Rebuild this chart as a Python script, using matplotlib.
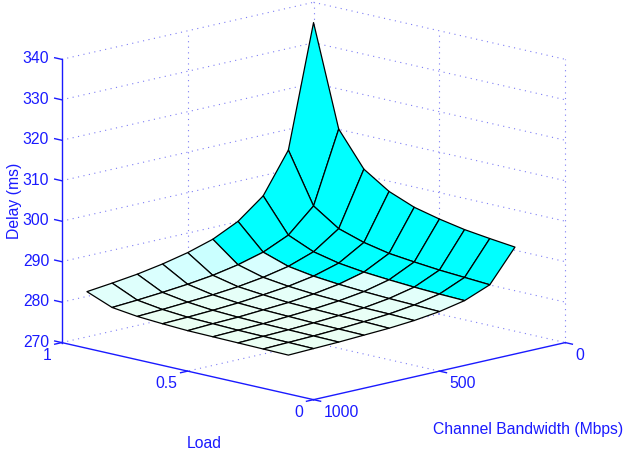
import numpy as np
import matplotlib
matplotlib.use('Agg')
import matplotlib.pyplot as plt
from matplotlib.colors import LinearSegmentedColormap
from mpl_toolkits.mplot3d import proj3d

plt.rcParams['font.family'] = ['Liberation Sans', 'DejaVu Sans']

bandwidth = [100, 200, 300, 400, 500, 600, 700, 800, 900, 1000]
load = [0.1, 0.2, 0.3, 0.4, 0.5, 0.6, 0.7, 0.8, 0.9]

# delay in ms, one row per load value
delay_01 = [293.6, 285.7, 283.2, 281.9, 281.1, 280.6, 280.3, 280.0, 279.8, 279.6]
delay_02 = [294.3, 286.1, 283.4, 282.1, 281.3, 280.8, 280.4, 280.1, 279.9, 279.7]
delay_03 = [295.1, 286.5, 283.7, 282.3, 281.4, 280.9, 280.5, 280.2, 280.0, 279.8]
delay_04 = [296.3, 287.1, 284.1, 282.6, 281.7, 281.1, 280.7, 280.3, 280.1, 279.9]
delay_05 = [297.8, 287.8, 284.6, 283.0, 282.0, 281.3, 280.9, 280.5, 280.3, 280.0]
delay_06 = [300.3, 289.1, 285.4, 283.6, 282.5, 281.8, 281.2, 280.8, 280.5, 280.3]
delay_07 = [304.4, 291.1, 286.8, 284.6, 283.3, 282.4, 281.8, 281.4, 281.0, 280.7]
delay_08 = [312.9, 295.3, 289.5, 286.7, 285.0, 283.8, 283.0, 282.4, 281.9, 281.5]
delay_09 = [337.8, 307.7, 297.8, 292.9, 289.9, 288.0, 286.6, 285.5, 284.7, 284.0]

# how many cells are full cyan in each bandwidth column, counted from the high load side
cyan_cells = [8, 8, 4, 1, 0, 0, 0, 0, 0]

bw_ticks = [0, 500, 1000]
load_ticks = [0, 0.5, 1]
load_tick_labels = ['0', '0.5', '1']
delay_ticks = [270, 280, 290, 300, 310, 320, 330, 340]

BLUE = '#1a1aff'
GRID = '#7c7cf5'
FONT = 11.3
W, H = 626, 455

fig = plt.figure(figsize=(W / 100, H / 100), dpi=100)
ax = fig.add_axes([0.03778, -0.0788, 0.9018, 1.2407], projection='3d', proj_type='ortho')
ax.set_box_aspect((1, 1, 0.8167))
ax.view_init(elev=13.1, azim=-135)
ax.set_xlim(1000, 0)
ax.set_ylim(0, 1)
ax.set_zlim(270, 340)
ax.set_axis_off()
ax.computed_zorder = False
fig.canvas.draw()


def label_at(b, l, z, text, ha):
    # tick label placed at the screen position of a point in data coordinates
    x, y, _ = proj3d.proj_transform(b, l, z, ax.get_proj())
    px, py = ax.transData.transform((x, y))
    fig.text(px / W, py / H, text, color=BLUE, fontsize=FONT, ha=ha, va='center')


grid_style = dict(color=GRID, lw=0.8, ls=(0, (1, 4)), zorder=1)

# back walls
for z in delay_ticks:
    ax.plot([1000, 0], [1, 1], [z, z], **grid_style)
    ax.plot([0, 0], [1, 0], [z, z], **grid_style)
for b in bw_ticks[:2]:
    ax.plot([b, b], [1, 1], [270, 340], **grid_style)
for l in load_ticks[:2]:
    ax.plot([0, 0], [l, l], [270, 340], **grid_style)

# floor
ax.plot([500, 500], [0, 1], [270, 270], **grid_style)
ax.plot([0, 1000], [0.5, 0.5], [270, 270], **grid_style)

# surface
X, Y = np.meshgrid(bandwidth, load)
Z = np.array([delay_01, delay_02, delay_03, delay_04, delay_05,
              delay_06, delay_07, delay_08, delay_09])

pale = LinearSegmentedColormap.from_list('pale', ['#ebfff4', '#e3fffa', '#d8ffff', '#c8ffff'])
colors = np.ones(Z.shape + (4,))
for j in range(len(load) - 1):
    for i in range(len(bandwidth) - 1):
        mean_z = Z[j:j + 2, i:i + 2].mean()
        colors[j, i] = pale(np.clip((mean_z - 280.5) / 6.5, 0, 1))
        if j >= len(load) - 1 - cyan_cells[i]:
            colors[j, i] = (0, 1, 1, 1)

ax.plot_surface(X, Y, Z, facecolors=colors, rstride=1, cstride=1, shade=False,
                edgecolor='black', linewidth=0.9, antialiased=True, zorder=3)

# axis lines and ticks
axis_style = dict(color=BLUE, lw=1.0, zorder=4)
ax.plot([1000, 1000], [1, 1], [270, 340], **axis_style)
ax.plot([1000, 1000], [1, 0], [270, 270], **axis_style)
ax.plot([1000, 0], [0, 0], [270, 270], **axis_style)

for z in delay_ticks:
    ax.plot([1000, 1000], [1, 1.028], [z, z], **axis_style)
    label_at(1000, 1.05, z - 0.6, str(z), 'right')
for l, label in zip(load_ticks, load_tick_labels):
    ax.plot([1000, 1028], [l, l], [270, 270], **axis_style)
    label_at(1040, l, 267.4, label, 'right')
for b in bw_ticks:
    ax.plot([b, b], [0, -0.028], [270, 270], **axis_style)
    label_at(b, -0.04, 267.4, str(b), 'left')

fig.text(204.5 / W, 1 - 443 / H, 'Load', color=BLUE, fontsize=FONT, ha='center', va='center')
fig.text(528.5 / W, 1 - 429.5 / H, 'Channel Bandwidth (Mbps)', color=BLUE, fontsize=FONT,
         ha='center', va='center')
fig.text(15 / W, 1 - 200.5 / H, 'Delay (ms)', color=BLUE, fontsize=FONT, rotation=90,
         ha='center', va='center')

fig.savefig('out.png', dpi=100)
